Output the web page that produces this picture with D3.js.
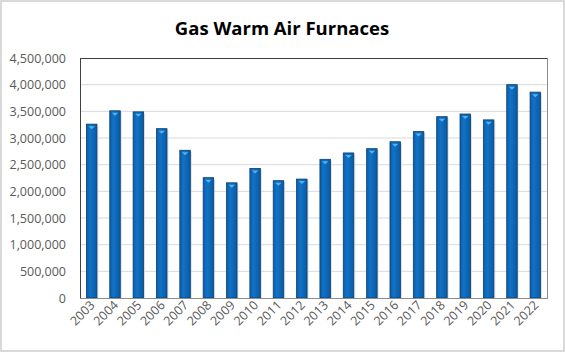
<!DOCTYPE html>
<html>
<head>
<meta charset="utf-8">
<script src="https://cdn.jsdelivr.net/npm/d3@7"></script>
<style>
  body { margin: 0; background: #fff; }
  svg text { font-family: "Open Sans", "Liberation Sans", sans-serif; }
</style>
</head>
<body>
<div id="chart"></div>
<script>
'use strict';

// chart data
const years = ['2003','2004','2005','2006','2007','2008','2009','2010','2011','2012',
               '2013','2014','2015','2016','2017','2018','2019','2020','2021','2022'];
const shipments = [3260000, 3510000, 3490000, 3175000, 2770000, 2256000, 2160000, 2430000, 2200000, 2230000,
                   2600000, 2720000, 2800000, 2930000, 3120000, 3400000, 3450000, 3340000, 4000000, 3860000];
const yTicks = [0, 500000, 1000000, 1500000, 2000000, 2500000, 3000000, 3500000, 4000000, 4500000];
const title = 'Gas Warm Air Furnaces';

const svg_width = 565, svg_height = 352;
const margin = {top: 58, right: 18, bottom: 54, left: 80};
const chart_width = svg_width - margin.left - margin.right;
const chart_height = svg_height - margin.top - margin.bottom;

const svg = d3.select('#chart').append('svg')
    .attr('width', svg_width)
    .attr('height', svg_height);

// outer frame
svg.append('rect')
    .attr('x', 1).attr('y', 1)
    .attr('width', svg_width - 2).attr('height', svg_height - 2)
    .attr('fill', '#fff').attr('stroke', '#d9d9d9').attr('stroke-width', 2);

svg.append('text')
    .attr('x', 282).attr('y', 35)
    .attr('text-anchor', 'middle')
    .attr('font-size', 18.5).attr('font-weight', 'bold')
    .attr('fill', '#000')
    .text(title);

const defs = svg.append('defs');
const grad = defs.append('linearGradient').attr('id', 'barGrad')
    .attr('x1', 0).attr('x2', 1).attr('y1', 0).attr('y2', 0);
grad.append('stop').attr('offset', '0%').attr('stop-color', '#0a5ea8');
grad.append('stop').attr('offset', '35%').attr('stop-color', '#1172c8');
grad.append('stop').attr('offset', '100%').attr('stop-color', '#0a5aa0');

const chart = svg.append('g').attr('transform', `translate(${margin.left},${margin.top})`);

const x = d3.scaleBand().domain(years).range([0, chart_width]).paddingInner(0.55).paddingOuter(0.275);
const y = d3.scaleLinear().domain([0, 4500000]).range([chart_height, 0]);

// gridlines
chart.append('g').selectAll('line').data(yTicks.slice(1, -1)).join('line')
    .attr('x1', 0).attr('x2', chart_width)
    .attr('y1', d => y(d)).attr('y2', d => y(d))
    .attr('stroke', '#d9d9d9').attr('stroke-width', 1);

// plot area border
chart.append('rect')
    .attr('x', 0.5).attr('y', 0.5)
    .attr('width', chart_width).attr('height', chart_height)
    .attr('fill', 'none').attr('stroke', '#8c8c8c').attr('stroke-width', 1);
chart.append('line')
    .attr('x1', 0.5).attr('x2', chart_width).attr('y1', 0.5).attr('y2', 0.5)
    .attr('stroke', '#404040');
chart.append('line')
    .attr('x1', 0.5).attr('x2', 0.5).attr('y1', 0).attr('y2', chart_height)
    .attr('stroke', '#404040');

// bar shadows
chart.append('g').selectAll('rect').data(shipments).join('rect')
    .attr('x', (d, i) => x(years[i]) + 1.5)
    .attr('y', d => y(d) + 1.5)
    .attr('width', x.bandwidth())
    .attr('height', d => chart_height - y(d) - 1.5)
    .attr('fill', '#cfd6de').attr('opacity', 0.7);

// bars
chart.append('g').selectAll('rect').data(shipments).join('rect')
    .attr('x', (d, i) => x(years[i]))
    .attr('y', d => y(d))
    .attr('width', x.bandwidth())
    .attr('height', d => chart_height - y(d))
    .attr('fill', 'url(#barGrad)')
    .attr('stroke', '#0b3f70').attr('stroke-width', 0.8);

// light bevel marks on bar tops
chart.append('g').selectAll('path').data(shipments).join('path')
    .attr('d', (d, i) => {
        const x0 = x(years[i]), w = x.bandwidth(), t = y(d);
        return `M${x0 + 2},${t + 2}L${x0 + w - 2},${t + 2}L${x0 + w / 2},${t + 5}Z`;
    })
    .attr('fill', '#4fb3f0');

// axes
const yAxis = svg.append('g')
    .attr('transform', `translate(${margin.left},${margin.top})`)
    .call(d3.axisLeft(y).tickValues(yTicks).tickSize(0).tickPadding(14).tickFormat(d3.format(',')));
yAxis.select('.domain').remove();
yAxis.selectAll('text').attr('font-size', 12.5).attr('fill', '#595959');

const xAxis = svg.append('g')
    .attr('transform', `translate(${margin.left},${margin.top + chart_height})`)
    .call(d3.axisBottom(x).tickSize(0).tickPadding(0));
xAxis.select('.domain').attr('stroke', '#8c8c8c');
xAxis.selectAll('text')
    .attr('font-size', 12.5).attr('fill', '#595959')
    .attr('text-anchor', 'end')
    .attr('dy', 0)
    .attr('transform', 'translate(4,8) rotate(-45)');
</script>
</body>
</html>
